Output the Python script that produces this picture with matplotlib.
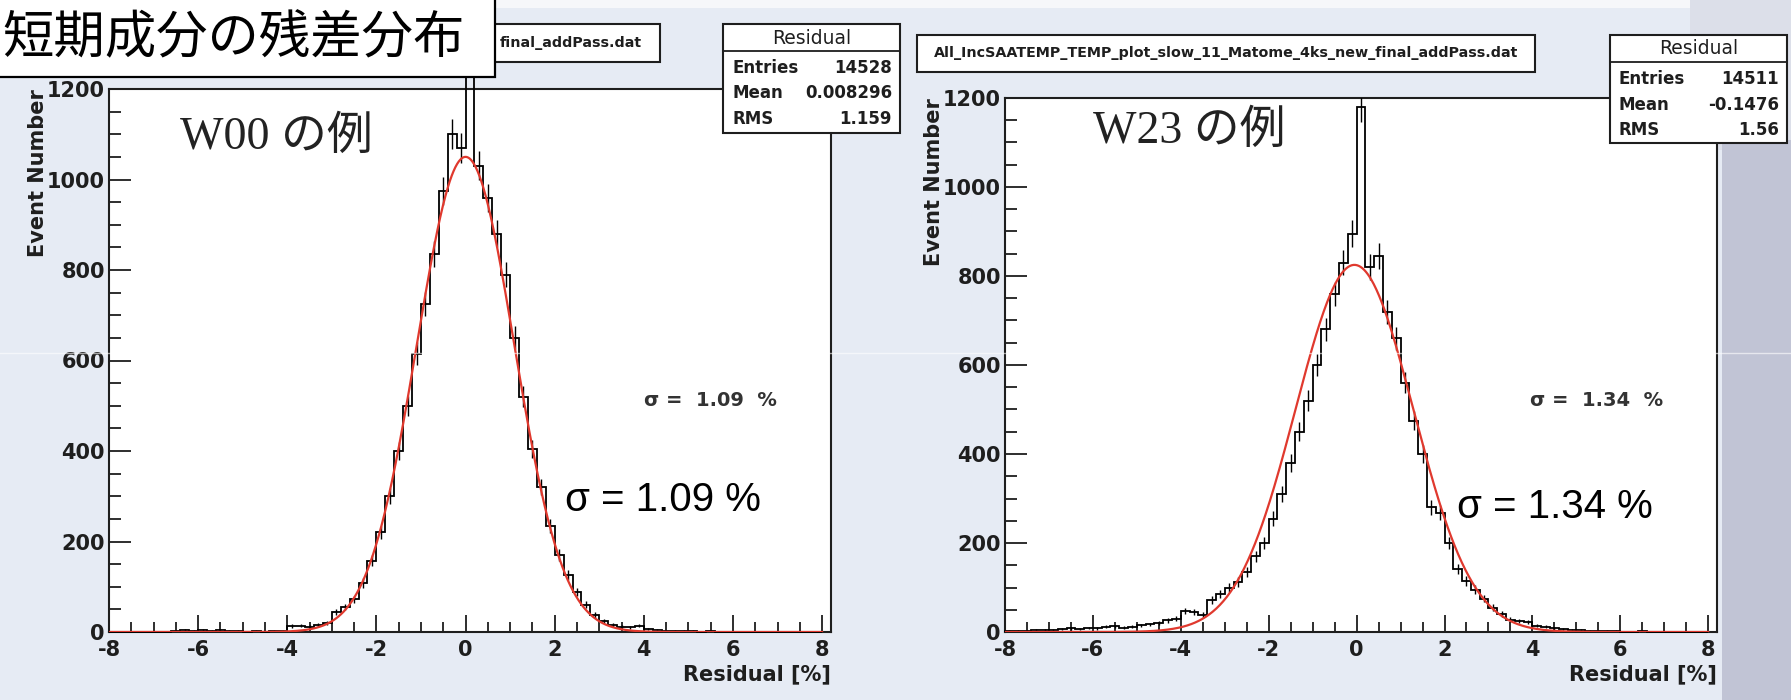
import numpy as np
import matplotlib.pyplot as plt
from matplotlib.patches import Rectangle
from matplotlib.lines import Line2D

W, H = 1791, 700

# bin edges of both histograms (-8 .. 8, width 0.2)
bin_edges = np.round(np.arange(-8.0, 8.001, 0.2), 2)

# W00 residual histogram, counts per bin
w00_counts = [0, 0, 1, 0, 0, 1, 0, 3, 4, 2,
              4, 3, 4, 2, 3, 1, 2, 1, 2, 3,
              13, 14, 12, 16, 20, 45, 55, 72, 108, 158,
              220, 300, 400, 500, 615, 725, 835, 975, 1100, 1070,
              1330, 1030, 960, 880, 790, 650, 520, 405, 320, 235,
              170, 125, 88, 60, 38, 24, 16, 12, 10, 14,
              6, 4, 3, 2, 3, 2, 1, 2, 1, 1,
              0, 1, 0, 0, 1, 0, 0, 1, 0, 0]

# W23 residual histogram
w23_counts = [2, 3, 2, 4, 5, 4, 6, 8, 7, 9,
              8, 12, 13, 10, 12, 15, 17, 20, 26, 30,
              47, 46, 38, 72, 86, 100, 112, 135, 170, 200,
              255, 310, 380, 450, 520, 600, 680, 760, 830, 895,
              1180, 820, 845, 720, 660, 560, 475, 400, 280, 268,
              200, 142, 115, 95, 75, 55, 40, 28, 25, 22,
              14, 12, 8, 6, 5, 4, 3, 3, 2, 2,
              1, 1, 2, 1, 0, 1, 0, 1, 0, 0]

# gaussian fit: constant, mean, sigma
w00_fit = [1050, 0.0, 1.09]
w23_fit = [825, -0.05, 1.34]

x_ticks = [-8, -6, -4, -2, 0, 2, 4, 6, 8]
x_tick_labels = ['-8', '-6', '-4', '-2', '0', '2', '4', '6', '8']
y_ticks = [0, 200, 400, 600, 800, 1000, 1200]
y_tick_labels = ['0', '200', '400', '600', '800', '1000', '1200']

w00_stats = [('Entries', '14528'), ('Mean', '0.008296'), ('RMS', '1.159')]
w23_stats = [('Entries', '14511'), ('Mean', '-0.1476'), ('RMS', '1.56')]
# the left file name is mostly hidden by the slide title
w00_file = 'final_addPass.dat'
w23_file = 'All_IncSAATEMP_TEMP_plot_slow_11_Matome_4ks_new_final_addPass.dat'

ink = '#1e1e1e'

fig = plt.figure(figsize=(W / 100, H / 100), dpi=100)
fig.patch.set_facecolor('#e6ebf4')


def fx(px):
    return px / W


def fy(py):
    return 1 - py / H


def box(x0, y0, x1, y1, z=5, **kw):
    r = Rectangle((fx(x0), fy(y1)), fx(x1) - fx(x0), fy(y0) - fy(y1),
                  transform=fig.transFigure, zorder=z, **kw)
    fig.add_artist(r)


def hline(x0, x1, y, z=6, **kw):
    fig.add_artist(Line2D([fx(x0), fx(x1)], [fy(y), fy(y)],
                          transform=fig.transFigure, zorder=z, **kw))


# slide background bits
box(0, 0, W, 8, z=-2, fc='#f6f7fa', ec='none')
box(1690, 0, W, 150, z=-2, fc='#dcdfe9', ec='none')
box(1722, 140, W, H, z=-2, fc='#c1c4d5', ec='none')


def panel(frame, counts, fit, tag, sig_txt, tag_xy, small_xy, big_xy,
          file_txt, file_box, file_text_x, stats, stat_box, label_x):
    left, top, right, bottom = frame
    ax = fig.add_axes([fx(left), fy(bottom), (right - left) / W, (bottom - top) / H])
    ax.set_facecolor('white')
    ax.set_xlim(-8, 8.2)
    ax.set_ylim(0, 1200)

    counts = np.array(counts, dtype=float)
    centres = (bin_edges[:-1] + bin_edges[1:]) / 2
    ax.stairs(counts, bin_edges, color='black', lw=1.3, clip_on=False, zorder=3)
    ax.errorbar(centres, counts, yerr=np.sqrt(counts), fmt='none',
                ecolor='black', elinewidth=1.0, zorder=3)

    amp, mu, sig = fit
    xf = np.linspace(-8, 8, 800)
    ax.plot(xf, amp * np.exp(-0.5 * ((xf - mu) / sig) ** 2),
            color='#e0392e', lw=1.6, zorder=4)

    ax.set_xticks(x_ticks)
    ax.set_xticklabels(x_tick_labels, fontweight='bold')
    ax.set_xticks(np.arange(-8, 8.01, 0.5), minor=True)
    ax.set_yticks(y_ticks)
    ax.set_yticklabels(y_tick_labels, fontweight='bold')
    ax.set_yticks(np.arange(0, 1201, 50), minor=True)
    ax.tick_params(which='both', direction='in', top=False, right=False,
                   colors=ink, labelsize=15, width=1.3)
    ax.xaxis.set_tick_params(which='major', length=12, pad=6)
    ax.xaxis.set_tick_params(which='minor', length=7)
    ax.yaxis.set_tick_params(which='major', length=16, pad=3)
    ax.yaxis.set_tick_params(which='minor', length=8.5)
    for s in ax.spines.values():
        s.set_linewidth(1.5)
        s.set_color(ink)

    ax.set_ylabel('Event Number', loc='top', fontsize=15, fontweight='bold', color=ink)
    ax.yaxis.set_label_coords(label_x, 1.0)
    ax.set_xlabel('Residual [%]', loc='right', fontsize=15, fontweight='bold', color=ink)
    ax.xaxis.set_label_coords(1.0, -(664 - bottom) / (bottom - top))
    ax.xaxis.label.set_va('top')

    fig.text(fx(tag_xy[0]), fy(tag_xy[1]), tag, fontsize=33, va='center',
             family=['Liberation Serif', 'Noto Sans CJK JP'], color='#222222', zorder=6)
    fig.text(fx(small_xy[0]), fy(small_xy[1]), 'σ =  ' + sig_txt + '  %',
             fontsize=14, fontweight='bold', va='center', color='#333333', zorder=6)
    fig.text(fx(big_xy[0]), fy(big_xy[1]), 'σ = ' + sig_txt + ' %',
             fontsize=29, family='Liberation Sans', va='center', color='black', zorder=6)

    # title (file name) box
    fx0, fy0, fx1, fy1 = file_box
    box(fx0, fy0, fx1, fy1, fc='white', ec=ink, lw=1.5)
    fig.text(fx(file_text_x[0]), fy((fy0 + fy1) / 2), file_txt, fontsize=10.3,
             fontweight='bold', ha=file_text_x[1], va='center', color=ink, zorder=6)

    # stat box
    sx0, sy0, sx1, sy1 = stat_box
    box(sx0, sy0, sx1, sy1, fc='white', ec=ink, lw=1.5)
    hline(sx0, sx1, sy0 + 27, color=ink, lw=1.3)
    fig.text(fx((sx0 + sx1) / 2), fy(sy0 + 14), 'Residual', fontsize=13.5,
             ha='center', va='center', color=ink, zorder=7)
    for i, (name, val) in enumerate(stats):
        yy = sy0 + 44 + i * 25.5
        fig.text(fx(sx0 + 9), fy(yy), name, fontsize=12, fontweight='bold',
                 va='center', color=ink, zorder=7)
        fig.text(fx(sx1 - 8), fy(yy), val, fontsize=12, fontweight='bold',
                 ha='right', va='center', color=ink, zorder=7)
    return ax


panel((109, 89, 831, 632), w00_counts, w00_fit, 'W00 の例', '1.09', (180, 138),
      (644, 400), (565, 500), w00_file, (26, 24, 660, 62), (642, 'right'),
      w00_stats, (723, 24, 900, 133), -0.084)
panel((1005, 98, 1717, 632), w23_counts, w23_fit, 'W23 の例', '1.34', (1093, 132),
      (1530, 400), (1457, 507), w23_file, (917, 35, 1535, 72), (1226, 'center'),
      w23_stats, (1610, 35, 1787, 143), -0.085)

# faint scan line across the slide
hline(0, W, 353, z=8, color='white', lw=1.0, alpha=0.6)

# slide title
box(-5, -5, 495, 77, z=9, fc='white', ec='black', lw=1.6)
fig.text(fx(2), fy(39), '短期成分の残差分布', fontsize=37, va='center',
         family=['Noto Sans CJK JP'], color='black', zorder=10)

fig.savefig('out.png', dpi=100, facecolor=fig.get_facecolor())
